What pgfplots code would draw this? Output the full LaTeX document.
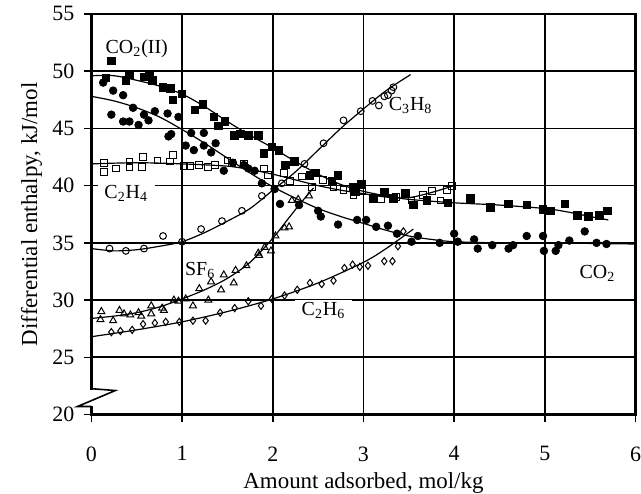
\documentclass[border=0pt]{standalone}
\usepackage{fontspec}
\setmainfont{Liberation Serif}
\usepackage{pgfplots}
\pgfplotsset{compat=1.18}
\begin{document}
\begin{tikzpicture}
\begin{axis}[
 scale only axis, width=273pt, height=201pt,
 xmin=0, xmax=6, ymin=20, ymax=55,
 xtick={0,1,2,3,4,5,6}, ytick={20,25,30,35,40,45,50,55},
 xtick pos=left, ytick pos=left,
 grid=major, major grid style={black, line width=0.85pt},
 axis line style={line width=1.3pt},
 tick align=outside, tick style={black, line width=0.8pt}, major tick length=3.5pt,
 /pgf/number format/assume math mode=true,
 tick label style={font=\fontsize{11}{13}\selectfont},
 xticklabel style={yshift=-9pt, inner xsep=0pt},
 yticklabel style={xshift=-1.5pt},
 xlabel={Amount adsorbed, mol/kg},
 ylabel={Differential enthalpy, kJ/mol},
 label style={font=\fontsize{11.5}{13}\selectfont},
 xlabel style={at={(axis description cs:0.5,0)}, anchor=north, inner sep=0pt, yshift=-29pt},
 ylabel style={at={(axis description cs:-0.09,0.5)}, anchor=south, inner sep=0pt},
 clip=false,
]
% ---- fitted curves ----
\addplot[black, line width=0.6pt, smooth] coordinates {
(0,49.6) (0.25,49.6) (0.5,49.2) (0.75,48.7) (1,48.0) (1.25,46.9) (1.5,45.6) (1.75,44.4) (2,43.3) (2.25,42.1) (2.5,41.0) (2.75,40.1) (3,39.5) (3.25,39.1) (3.5,38.8) (4,38.5) (4.5,38.3) (5,38.0) (5.25,37.7) (5.5,37.3) (5.7,37.0)};
\addplot[black, line width=0.6pt, smooth] coordinates {
(0,47.8) (0.25,47.4) (0.5,46.8) (0.75,46.0) (1,44.9) (1.25,43.7) (1.5,42.4) (1.75,41.1) (2,39.9) (2.25,38.9) (2.5,38.0) (2.75,37.3) (3,36.7) (3.25,36.1) (3.5,35.6) (3.75,35.3) (4,35.1) (4.5,35.0) (5,35.0) (5.5,34.95) (6,34.9)};
\addplot[black, line width=0.6pt, smooth] coordinates {
(0,41.9) (0.5,42.0) (1,41.9) (1.5,41.7) (1.75,41.4) (2,41.0) (2.25,40.5) (2.5,40.0) (2.75,39.6) (3,39.3) (3.25,39.0) (3.5,38.95) (3.75,39.4) (4.0,40.0)};
\addplot[black, line width=0.6pt, smooth] coordinates {
(0,34.5) (0.25,34.3) (0.5,34.4) (0.75,34.7) (1,35.1) (1.25,35.9) (1.5,36.9) (1.75,38.0) (2,39.6) (2.25,41.2) (2.5,43.1) (2.75,45.0) (3,46.7) (3.25,48.3) (3.52,49.7)};
\addplot[black, line width=0.6pt, smooth] coordinates {
(0,28.4) (0.25,28.6) (0.5,28.9) (0.75,29.4) (1,30.1) (1.25,30.9) (1.5,31.9) (1.75,33.3) (2,35.4) (2.15,36.9) (2.3,38.4) (2.45,39.8)};
\addplot[black, line width=0.6pt, smooth] coordinates {
(0,26.8) (0.5,27.4) (1,28.1) (1.5,29.0) (2,30.1) (2.5,31.5) (3,33.3) (3.25,34.5) (3.55,36.2)};
% ---- CO2(II) filled squares ----
\addplot[only marks, mark=square*, mark size=1.9pt, black] coordinates {
(0.22,50.9) (0.16,49.4) (0.38,49.2) (0.42,49.7) (0.58,49.5) (0.64,49.7) (0.67,49.2) (0.79,48.6) (0.87,48.5) (0.90,47.5) (1.00,48.0) (1.14,46.6) (1.23,47.1) (1.35,46.0) (1.40,45.2) (1.47,45.6) (1.58,44.4) (1.64,44.5) (1.73,44.4) (1.84,44.4) (1.90,42.8) (1.99,43.4) (2.07,43.1) (2.14,41.8) (2.24,42.1) (2.41,40.9) (2.47,41.1) (2.65,40.4) (2.72,40.9) (2.89,39.9) (2.91,39.5) (2.98,40.1) (3.11,38.9) (3.23,39.4) (3.33,38.9) (3.46,39.3) (3.55,38.3) (3.70,38.7) (3.93,38.5) (4.18,38.9) (4.40,38.1) (4.60,38.4) (4.80,38.3) (4.98,37.9) (5.06,37.8) (5.22,38.4) (5.36,37.4) (5.48,37.3) (5.60,37.4) (5.69,37.8)};
% ---- CO2 filled circles ----
\addplot[only marks, mark=*, mark size=1.9pt, black] coordinates {
(0.13,49.0) (0.24,48.3) (0.35,47.9) (0.22,46.2) (0.35,45.6) (0.42,45.6) (0.52,45.3) (0.46,46.8) (0.58,46.2) (0.63,45.7) (0.70,46.5) (0.84,46.3) (0.96,46.0) (0.85,44.3) (0.88,44.5) (1.04,43.5) (1.10,44.6) (1.24,44.6) (1.24,43.5) (1.37,43.7) (1.13,43.1) (1.32,42.9) (1.46,41.3) (1.56,42.0) (1.68,41.8) (1.73,41.5) (1.80,41.3) (1.88,40.2) (2.02,39.7) (2.08,38.4) (2.29,38.3) (2.50,37.8) (2.53,37.3) (2.72,36.6) (2.93,37.0) (3.03,37.0) (3.14,36.4) (3.27,36.5) (3.37,35.8) (3.53,35.1) (3.60,35.6) (3.84,35.0) (4.00,35.8) (4.04,35.1) (4.22,35.3) (4.26,34.5) (4.42,34.8) (4.60,34.5) (4.65,34.8) (4.80,35.6) (4.98,35.6) (4.99,34.3) (5.12,34.3) (5.15,34.8) (5.27,35.2) (5.44,36.0) (5.57,35.0) (5.68,34.9)};
% ---- C2H4 open squares ----
\addplot[only marks, mark=square, mark size=1.7pt, mark options={fill=white, line width=0.5pt}, black] coordinates {
(0.14,42.0) (0.14,41.2) (0.27,41.5) (0.42,42.1) (0.42,41.6) (0.57,42.5) (0.56,41.6) (0.73,42.2) (0.87,42.1) (0.90,42.7) (1.02,41.7) (1.09,41.7) (1.19,41.8) (1.29,41.6) (1.36,41.8) (1.50,42.2) (1.55,42.0) (1.68,41.9) (1.90,41.5) (1.95,40.9) (2.12,41.1) (2.19,40.4) (2.32,40.8) (2.43,39.9) (2.55,40.5) (2.67,39.9) (2.78,39.6) (2.89,39.2) (2.98,39.5) (3.19,38.8) (3.36,39.0) (3.53,38.7) (3.66,39.2) (3.76,39.5) (3.85,38.7) (3.92,39.6) (3.98,40.0)};
% ---- C3H8 open circles ----
\addplot[only marks, mark=o, mark size=1.7pt, mark options={fill=white, line width=0.5pt}, black] coordinates {
(0.20,34.5) (0.38,34.3) (0.58,34.5) (0.79,35.6) (1.00,35.1) (1.21,36.2) (1.44,36.9) (1.66,37.8) (1.88,39.1) (2.10,40.2) (2.35,41.9) (2.56,43.7) (2.78,45.7) (2.97,46.5) (3.10,47.4) (3.17,47.0) (3.23,47.8) (3.27,47.9) (3.31,48.3) (3.33,48.6)};
% ---- SF6 open triangles ----
\addplot[only marks, mark=triangle, mark size=2pt, mark options={fill=white, line width=0.5pt}, black] coordinates {
(0.11,29.0) (0.10,28.3) (0.24,28.2) (0.31,29.1) (0.36,28.8) (0.43,28.7) (0.52,28.9) (0.55,28.6) (0.66,29.5) (0.66,28.8) (0.78,29.3) (0.80,29.1) (0.91,30.0) (0.96,29.9) (1.04,30.1) (1.12,29.5) (1.19,31.0) (1.29,30.0) (1.32,31.6) (1.43,30.9) (1.46,32.2) (1.57,31.5) (1.59,32.6) (1.71,33.0) (1.84,34.1) (1.85,33.9) (1.91,34.6) (1.98,34.3) (2.03,35.6) (2.13,36.3) (2.18,36.4) (2.21,38.7) (2.28,38.8) (2.40,39.1)};
% ---- C2H6 open diamonds ----
\addplot[only marks, mark=diamond, mark size=1.8pt, mark options={fill=white, line width=0.5pt}, black] coordinates {
(0.22,27.2) (0.32,27.3) (0.45,27.4) (0.57,27.9) (0.70,28.0) (0.82,28.1) (0.97,28.1) (1.12,28.2) (1.26,28.2) (1.42,28.9) (1.58,29.3) (1.73,29.9) (1.87,29.5) (1.99,30.1) (2.13,30.4) (2.27,30.9) (2.41,31.5) (2.54,31.4) (2.67,31.7) (2.79,32.8) (2.88,33.1) (2.96,32.9) (3.05,33.0) (3.23,33.4) (3.32,33.4) (3.38,34.7) (3.44,36.0)};
% ---- labels ----
\begin{scope}[every node/.style={font=\fontsize{10}{12}\selectfont}]
\node at (axis cs:0.5,52.0) {CO\textsubscript{2}(II)};
\node at (axis cs:3.52,47.0) {C\textsubscript{3}H\textsubscript{8}};
\node[fill=white, inner xsep=3.5pt, inner ysep=1pt] at (axis cs:0.385,39.3) {C\textsubscript{2}H\textsubscript{4}};
\node at (axis cs:1.2,32.6) {SF\textsubscript{6}};
\node[fill=white, inner xsep=3.5pt, inner ysep=1pt] at (axis cs:2.56,29.1) {C\textsubscript{2}H\textsubscript{6}};
\node at (axis cs:5.58,32.3) {CO\textsubscript{2}};
\end{scope}
\coordinate (b1) at (axis cs:0,22.15);
\coordinate (b2) at (axis cs:0,20.75);
\coordinate (z1) at (axis cs:0,22.19);
\coordinate (z2) at (axis cs:0.264,22.1);
\coordinate (z3) at (axis cs:-0.154,20.7);
\coordinate (z4) at (axis cs:0,20.7);
\end{axis}
\draw[white, line width=2.5pt] (b1) -- (b2);
\draw[black, line width=0.8pt, line join=miter] ([yshift=0.4pt]z1) -- (z2) -- (z3) -- (z4);
\path ([xshift=-10.5pt]current bounding box.west) -- (current bounding box.east);
\end{tikzpicture}
\end{document}
